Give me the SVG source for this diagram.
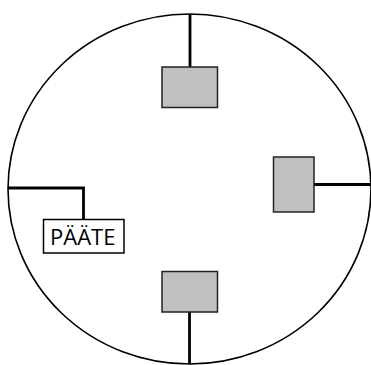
<svg xmlns="http://www.w3.org/2000/svg" width="371" height="365" viewBox="0 0 371 365">
<style>
.box{fill:#c0c0c0;stroke:#222;stroke-width:1.5}
.conn{fill:none;stroke:#000;stroke-width:2.8}
.lbl{font-family:"Open Sans","Noto Sans",sans-serif;font-size:22px;fill:#000}
</style>
<rect width="371" height="365" fill="#fff"/>
<g id="ring">
<ellipse cx="189.5" cy="189" rx="181.5" ry="175" fill="none" stroke="#000" stroke-width="1.6"/>
</g>
<g id="connectors">
<path class="conn" d="M190 14V67"/>
<path class="conn" d="M314 184.5H371"/>
<path class="conn" d="M189.5 312V364"/>
<path class="conn" d="M8 188H83.5V219.5"/>
</g>
<g id="node-top"><rect class="box" x="162" y="67" width="55.5" height="40.5"/></g>
<g id="node-right"><rect class="box" x="273.5" y="157" width="40.5" height="55"/></g>
<g id="node-bottom"><rect class="box" x="162" y="271.5" width="55.5" height="40.5"/></g>
<g id="node-paate">
<rect x="43.5" y="219.5" width="80.5" height="33.5" fill="#fff" stroke="#000" stroke-width="1.5"/>
<text class="lbl" x="82.7" y="244.5" text-anchor="middle">PÄÄTE</text>
</g>
</svg>
